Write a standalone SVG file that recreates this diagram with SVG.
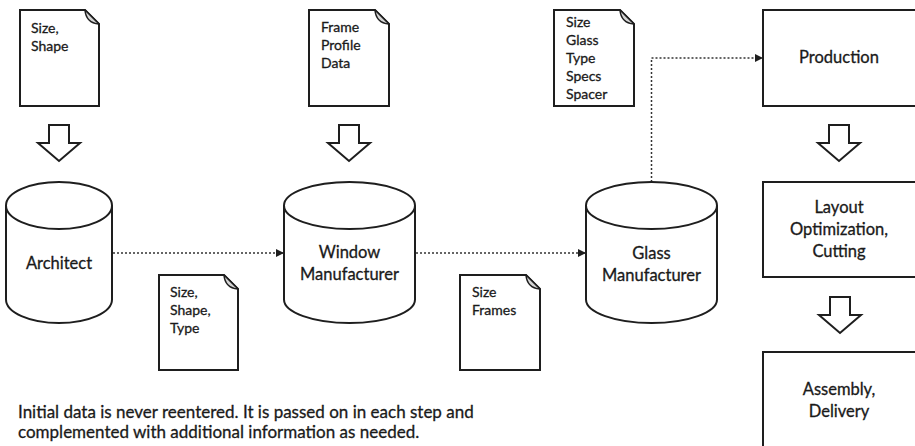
<svg xmlns="http://www.w3.org/2000/svg" width="915" height="446" viewBox="0 0 915 446">
  <defs>
    <style>
      .shape { fill: #fff; stroke: #1e1e1e; stroke-width: 2; }
      .fold { fill: #d4d4d4; stroke: #1e1e1e; stroke-width: 1.5; stroke-linejoin: round; }
      .link { fill: none; stroke: #333; stroke-width: 1.5; stroke-dasharray: 2 2; }
      text { fill: #1a1a1a; stroke: #1a1a1a; stroke-width: 0.3; font-family: "Lato", "Liberation Sans", sans-serif; }
      .doc-text { font-size: 14px; }
      .label { font-size: 16.5px; text-anchor: middle; }
      .note { font-size: 17px; }
    </style>
    <marker id="arrowhead" viewBox="0 0 10 10" refX="10" refY="5" markerWidth="8" markerHeight="8" markerUnits="userSpaceOnUse" orient="auto">
      <path d="M0,0 L10,5 L0,10 Z" fill="#1e1e1e"/>
    </marker>
  </defs>

  <rect width="915" height="446" fill="#fff"/>

  <!-- dotted data flows -->
  <g id="connectors">
    <path class="link" d="M113,253 H284" marker-end="url(#arrowhead)"/>
    <path class="link" d="M416,253 H586" marker-end="url(#arrowhead)"/>
    <path class="link" d="M651.5,182 V58 H763" marker-end="url(#arrowhead)"/>
  </g>

  <!-- hollow down arrows -->
  <g id="flow-arrows">
    <path class="shape" d="M49,125 H69 V143 H80 L59,161 L38,143 H49 Z"/>
    <path class="shape" d="M339,125 H359 V143 H370 L349,161 L328,143 H339 Z"/>
    <path class="shape" d="M829,125 H849 V143 H860 L839,161 L818,143 H829 Z"/>
    <path class="shape" d="M830,297 H850 V315 H861 L840,333 L819,315 H830 Z"/>
  </g>

  <!-- documents -->
  <g id="doc-size-shape">
    <path class="shape" d="M20,10 H85 L99,24 V106 H20 Z"/>
    <path class="fold" d="M85,10 Q86,23 99,24 Z"/>
    <text class="doc-text" x="31" y="33">Size,</text>
    <text class="doc-text" x="31" y="51">Shape</text>
  </g>
  <g id="doc-frame-profile">
    <path class="shape" d="M309,10 H375 L389,24 V106 H309 Z"/>
    <path class="fold" d="M375,10 Q376,23 389,24 Z"/>
    <text class="doc-text" x="321" y="32">Frame</text>
    <text class="doc-text" x="321" y="50">Profile</text>
    <text class="doc-text" x="321" y="68">Data</text>
  </g>
  <g id="doc-glass-specs">
    <path class="shape" d="M554,10 H620 L634,24 V106 H554 Z"/>
    <path class="fold" d="M620,10 Q621,23 634,24 Z"/>
    <text class="doc-text" x="566" y="27">Size</text>
    <text class="doc-text" x="566" y="45">Glass</text>
    <text class="doc-text" x="566" y="63">Type</text>
    <text class="doc-text" x="566" y="81">Specs</text>
    <text class="doc-text" x="566" y="99">Spacer</text>
  </g>
  <g id="doc-size-shape-type">
    <path class="shape" d="M159,275 H224 L238,289 V370 H159 Z"/>
    <path class="fold" d="M224,275 Q225,288 238,289 Z"/>
    <text class="doc-text" x="170" y="297">Size,</text>
    <text class="doc-text" x="170" y="315">Shape,</text>
    <text class="doc-text" x="170" y="333">Type</text>
  </g>
  <g id="doc-size-frames">
    <path class="shape" d="M460,275 H526 L540,289 V370 H460 Z"/>
    <path class="fold" d="M526,275 Q527,288 540,289 Z"/>
    <text class="doc-text" x="472" y="297">Size</text>
    <text class="doc-text" x="472" y="315">Frames</text>
  </g>

  <!-- databases -->
  <g id="architect">
    <path class="shape" d="M6,205.5 V299.5 A53,23.5 0 0 0 112,299.5 V205.5"/>
    <ellipse class="shape" cx="59" cy="205.5" rx="53" ry="23.5"/>
    <text class="label" x="59" y="269">Architect</text>
  </g>
  <g id="window-manufacturer">
    <path class="shape" d="M284,205.5 V299.5 A65.5,23.5 0 0 0 415,299.5 V205.5"/>
    <ellipse class="shape" cx="349.5" cy="205.5" rx="65.5" ry="23.5"/>
    <text class="label" x="349.5" y="258">Window</text>
    <text class="label" x="349.5" y="280">Manufacturer</text>
  </g>
  <g id="glass-manufacturer">
    <path class="shape" d="M586,205.5 V299.5 A65.5,23.5 0 0 0 717,299.5 V205.5"/>
    <ellipse class="shape" cx="651.5" cy="205.5" rx="65.5" ry="23.5"/>
    <text class="label" x="651.5" y="259">Glass</text>
    <text class="label" x="651.5" y="281">Manufacturer</text>
  </g>

  <!-- process steps -->
  <g id="production">
    <rect class="shape" x="763" y="10" width="160" height="96"/>
    <text class="label" x="839" y="63">Production</text>
  </g>
  <g id="layout-cutting">
    <rect class="shape" x="763" y="182" width="160" height="95"/>
    <text class="label" x="839" y="213">Layout</text>
    <text class="label" x="839" y="235">Optimization,</text>
    <text class="label" x="839" y="257">Cutting</text>
  </g>
  <g id="assembly-delivery">
    <rect class="shape" x="763" y="352" width="160" height="110"/>
    <text class="label" x="839" y="395">Assembly,</text>
    <text class="label" x="839" y="417">Delivery</text>
  </g>

  <g id="note">
    <text class="note" x="18" y="418">Initial data is never reentered. It is passed on in each step and</text>
    <text class="note" x="18" y="438">complemented with additional information as needed.</text>
  </g>
</svg>
